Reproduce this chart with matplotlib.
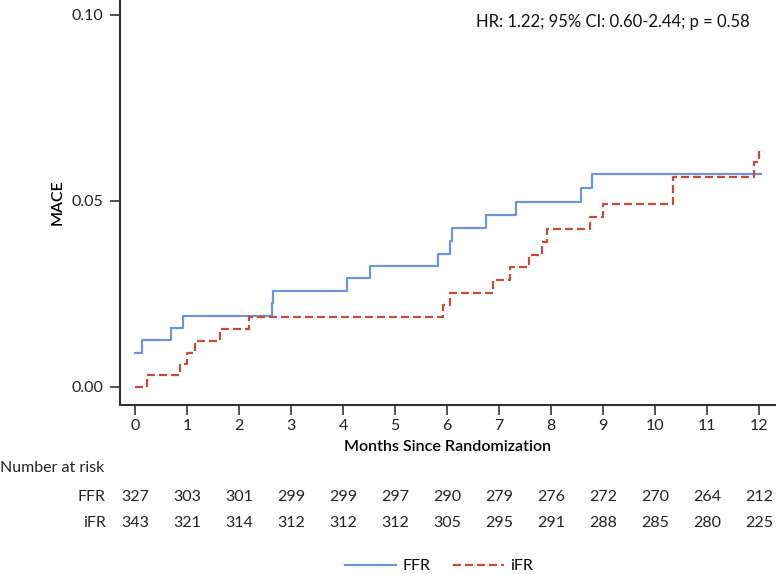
import matplotlib
matplotlib.use("Agg")
import matplotlib.pyplot as plt
from matplotlib.lines import Line2D

plt.rcParams['font.family'] = ['Lato', 'DejaVu Sans']

months = list(range(13))
ffr_t = [0, 0.13, 0.69, 0.93, 2.64, 2.66, 4.07, 4.51, 5.83, 6.06, 6.09, 6.75, 7.32, 8.58, 8.79, 12.05]
ffr_v = [0.0092, 0.0125, 0.0157, 0.019, 0.0224, 0.0257, 0.0293, 0.0325, 0.0357, 0.0393, 0.0427,
         0.0462, 0.0498, 0.0535, 0.0572, 0.0572]
ifr_t = [0, 0.22, 0.87, 0.99, 1.15, 1.63, 2.19, 5.93, 6.06, 6.88, 7.21, 7.58, 7.83, 7.92, 8.75,
         9.01, 10.35, 11.9, 12.0]
ifr_v = [0, 0.0031, 0.0061, 0.0092, 0.0124, 0.0156, 0.0188, 0.022, 0.0253, 0.0287, 0.0321, 0.0354,
         0.0388, 0.0424, 0.0456, 0.0492, 0.0564, 0.0604, 0.0642]
risk_ffr = [327, 303, 301, 299, 299, 297, 290, 279, 276, 272, 270, 264, 212]
risk_ifr = [343, 321, 314, 312, 312, 312, 305, 295, 291, 288, 285, 280, 225]
yticks = [0.00, 0.05, 0.10]

BLUE = '#6f95d6'
RED = '#c84a3a'
DARK = '#333333'
TXT = '#222222'
FS = 11.5

fig = plt.figure(figsize=(7.76, 5.74), dpi=100)
ax = fig.add_axes([120/776, 1-405/574, 1-120/776, 405/574])
ax.step(ffr_t, ffr_v, where='post', color=BLUE, lw=1.6)
ax.step(ifr_t, ifr_v, where='post', color=RED, lw=1.6, dashes=(3.6, 1.8))

ax.set_xlim(-0.29, 12.33)
ax.set_ylim(-0.0049, 0.104)
ax.set_xticks(months)
ax.set_yticks(yticks)
ax.set_yticklabels(['0.00', '0.05', '0.10'])
for s in ['top', 'right']:
    ax.spines[s].set_visible(False)
for s in ['left', 'bottom']:
    ax.spines[s].set_color(DARK)
    ax.spines[s].set_linewidth(1.5)
ax.tick_params(axis='both', direction='out', length=7, width=1.2, color=DARK,
               labelsize=FS, labelcolor=TXT, pad=5)
ax.tick_params(axis='x', pad=3)
ax.set_xlabel('Months Since Randomization', fontsize=FS, fontweight='semibold', labelpad=5)
ax.set_ylabel('MACE', fontsize=FS, fontweight='semibold', labelpad=5)

ax.text((750 - 120) / 656, 1 - 22/405, 'HR: 1.22; 95% CI: 0.60-2.44; p = 0.58',
        transform=ax.transAxes, ha='right', va='center', fontsize=12, color='#111111')

# number at risk table
tr = ax.get_xaxis_transform()
def axfrac(ypix):
    return (405 - ypix) / 405
fig.text(0.0, 1-468/574, 'Number at risk', ha='left', va='center', fontsize=FS, color=TXT)
for m, a, b in zip(months, risk_ffr, risk_ifr):
    ax.text(m, axfrac(497), str(a), transform=tr, ha='center', va='center', fontsize=FS,
            color=TXT, clip_on=False)
    ax.text(m, axfrac(523), str(b), transform=tr, ha='center', va='center', fontsize=FS,
            color=TXT, clip_on=False)
fig.text(106/776, 1-497/574, 'FFR', ha='right', va='center', fontsize=FS, color=TXT)
fig.text(106/776, 1-523/574, 'iFR', ha='right', va='center', fontsize=FS, color=TXT)

handles = [Line2D([], [], color=BLUE, lw=1.6),
           Line2D([], [], color=RED, lw=1.6, dashes=(3.6, 1.8))]
fig.legend(handles, ['FFR', 'iFR'], loc='center', bbox_to_anchor=(439/776, 1-566/574), ncol=2,
           frameon=False, fontsize=FS, handlelength=3.2, columnspacing=1.4, handletextpad=0.4)

fig.savefig('out.png', dpi=100)
